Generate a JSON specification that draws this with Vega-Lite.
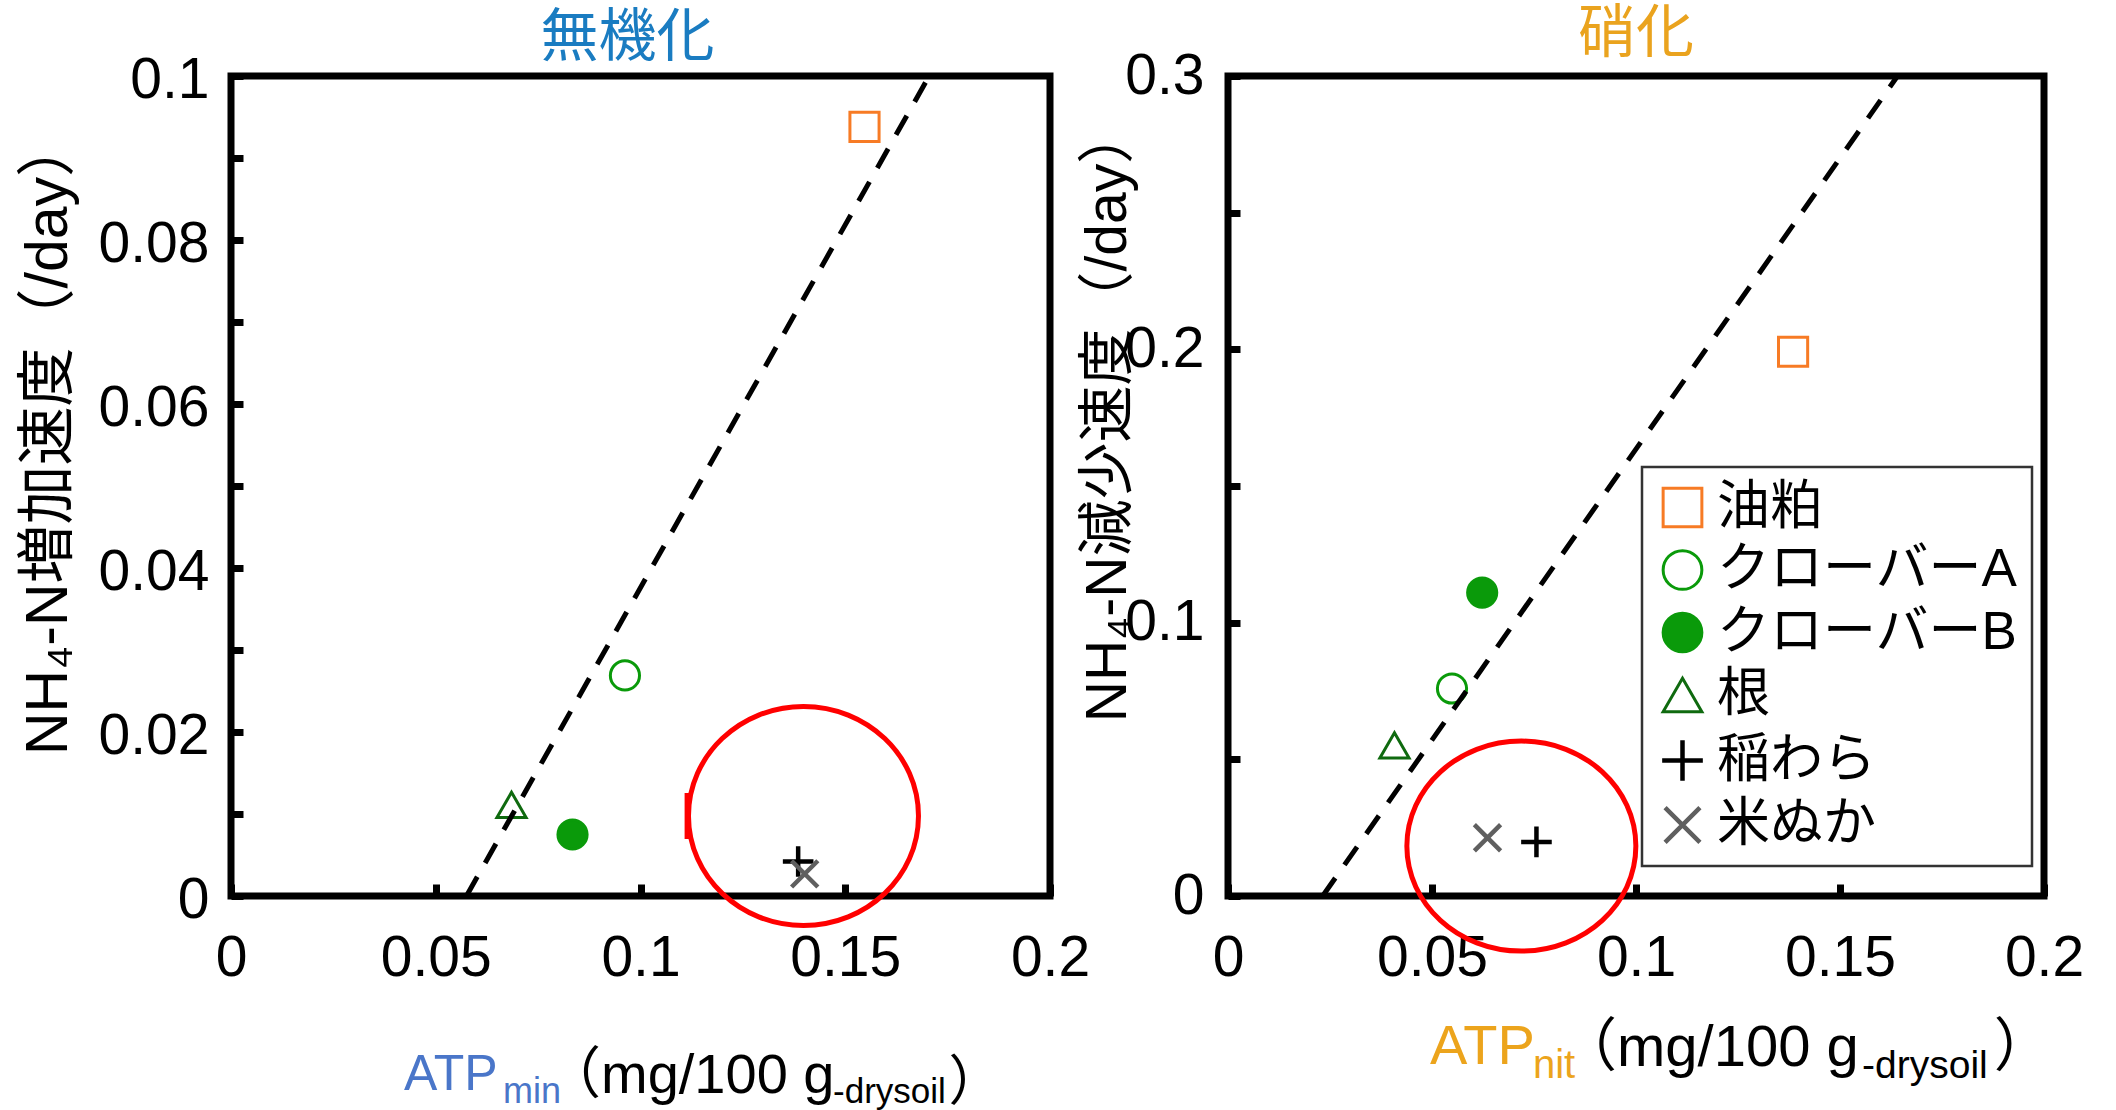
{
  "$schema": "https://vega.github.io/schema/vega-lite/v6.json",
  "background": "white",
  "padding": {"left": 15, "top": 2, "right": 0, "bottom": 0},
  "autosize": {"type": "pad"},
  "datasets": {
    "mineralization": [
      {"資材": "油粕", "ATP": 0.1547, "rate": 0.0938},
      {"資材": "クローバーA", "ATP": 0.0962, "rate": 0.0269},
      {"資材": "クローバーB", "ATP": 0.0834, "rate": 0.0075},
      {"資材": "根", "ATP": 0.0685, "rate": 0.0111},
      {"資材": "稲わら", "ATP": 0.1385, "rate": 0.0042},
      {"資材": "米ぬか", "ATP": 0.1401, "rate": 0.0027}
    ],
    "nitrification": [
      {"資材": "油粕", "ATP": 0.1385, "rate": 0.1991},
      {"資材": "クローバーA", "ATP": 0.0549, "rate": 0.0759},
      {"資材": "クローバーB", "ATP": 0.0623, "rate": 0.111},
      {"資材": "根", "ATP": 0.0408, "rate": 0.0551},
      {"資材": "稲わら", "ATP": 0.0756, "rate": 0.0198},
      {"資材": "米ぬか", "ATP": 0.0636, "rate": 0.0213}
    ],
    "fit_min": [
      {"ATP": 0.0575, "rate": 0},
      {"ATP": 0.1705, "rate": 0.1}
    ],
    "fit_nit": [
      {"ATP": 0.0232, "rate": 0},
      {"ATP": 0.1641, "rate": 0.3}
    ],
    "anchor": [{}]
  },
  "config": {
    "view": {"stroke": "black", "strokeWidth": 7},
    "font": "Liberation Sans",
    "legend": {"strokeWidth": 2.5},
    "axis": {
      "grid": false,
      "domain": false,
      "ticks": true,
      "tickSize": -12,
      "tickWidth": 7,
      "tickColor": "black",
      "labelFont": "Liberation Sans",
      "labelFontSize": 57,
      "labelColor": "black",
      "labelFlush": false,
      "labelOverlap": false
    }
  },
  "spacing": 178,
  "bounds": "flush",
  "resolve": {"scale": {"shape": "independent", "stroke": "independent", "fill": "independent", "strokeWidth": "independent"}},
  "hconcat": [
    {
      "width": 819,
      "height": 820,
      "title": {"text": "無機化", "color": "#1a7cc1", "font": "Noto Sans CJK JP", "fontSize": 58, "fontWeight": "normal", "frame": "group", "baseline": "alphabetic", "offset": -62.5, "dx": -13, "anchor": "middle"},
      "layer": [
        {
          "data": {"name": "mineralization"},
          "mark": {"type": "point", "filled": false, "opacity": 1, "size": 850},
          "encoding": {
            "x": {"field": "ATP", "type": "quantitative", "scale": {"domain": [0, 0.2], "nice": false},
              "axis": {"values": [0, 0.05, 0.1, 0.15, 0.2], "format": "~g", "title": null, "labelPadding": 46, "labelBaseline": "top"}},
            "y": {"field": "rate", "type": "quantitative", "scale": {"domain": [0, 0.1], "nice": false},
              "axis": {"values": [0, 0.01, 0.02, 0.03, 0.04, 0.05, 0.06, 0.07, 0.08, 0.09, 0.1], "format": "~g",
                "labelExpr": "round(datum.value*100) % 2 == 0 ? datum.label : ''", "labelPadding": 34, "labelOffset": 4,
                "title": "NH₄-N増加速度（/day）", "titleFont": "Liberation Sans, Noto Sans CJK JP", "titleFontSize": 59, "titleFontWeight": "normal", "titleColor": "black",
                "titleX": -183, "titleY": 360, "titleAngle": 270, "titleBaseline": "middle", "titleAlign": "center"}},
            "shape": {"field": "資材", "type": "nominal", "legend": null,
              "scale": {"domain": ["油粕", "クローバーA", "クローバーB", "根", "稲わら", "米ぬか"], "range": ["square", "circle", "circle", "triangle-up", "M -1.05 0 L 1.05 0 M 0 -1.05 L 0 1.05", "M -0.9 -0.9 L 0.9 0.9 M -0.9 0.9 L 0.9 -0.9"]}},
            "stroke": {"field": "資材", "type": "nominal", "legend": null,
              "scale": {"domain": ["油粕", "クローバーA", "クローバーB", "根", "稲わら", "米ぬか"], "range": ["#f77b25", "#0a9a0a", "#0a9a0a", "#0f6a0f", "#000000", "#5f5f5f"]}},
            "fill": {"field": "資材", "type": "nominal", "legend": null,
              "scale": {"domain": ["油粕", "クローバーA", "クローバーB", "根", "稲わら", "米ぬか"], "range": ["transparent", "transparent", "#0a9a0a", "transparent", "transparent", "transparent"]}},
            "strokeWidth": {"field": "資材", "type": "nominal", "legend": null,
              "scale": {"type": "ordinal", "domain": ["油粕", "クローバーA", "クローバーB", "根", "稲わら", "米ぬか"], "range": [3, 3, 3, 3, 4.5, 4.5]}}
          }
        },
        {
          "data": {"name": "fit_min"},
          "mark": {"type": "line", "color": "black", "strokeWidth": 5, "strokeDash": [22, 16], "strokeCap": "butt"},
          "encoding": {
            "x": {"field": "ATP", "type": "quantitative"},
            "y": {"field": "rate", "type": "quantitative"}
          }
        },
        {
          "data": {"name": "anchor"},
          "mark": {"type": "point", "shape": "M -1 0 A 1 0.952 0 1 1 1 0 A 1 0.952 0 1 1 -1 0 M -1.012 -0.2 L -1.012 0.2", "size": 52900, "filled": false, "stroke": "#ff0000", "strokeWidth": 5, "opacity": 1},
          "encoding": {
            "x": {"datum": 0.1398, "type": "quantitative"},
            "y": {"datum": 0.00976, "type": "quantitative"}
          }
        },
        {
          "data": {"name": "anchor"},
          "mark": {"type": "text", "text": "ATP", "align": "left", "baseline": "alphabetic", "font": "Liberation Sans", "fontSize": 50, "color": "#4a76c9"},
          "encoding": {"x": {"datum": 0.042247, "type": "quantitative"}, "y": {"datum": -0.023659, "type": "quantitative"}}
        },
        {
          "data": {"name": "anchor"},
          "mark": {"type": "text", "text": "min", "align": "left", "baseline": "alphabetic", "font": "Liberation Sans", "fontSize": 36, "color": "#4a76c9"},
          "encoding": {"x": {"datum": 0.066423, "type": "quantitative"}, "y": {"datum": -0.025244, "type": "quantitative"}}
        },
        {
          "data": {"name": "anchor"},
          "mark": {"type": "text", "text": "（mg/100 g", "align": "left", "baseline": "alphabetic", "font": "Liberation Sans, Noto Sans CJK JP", "fontSize": 56, "color": "black"},
          "encoding": {"x": {"datum": 0.07668, "type": "quantitative"}, "y": {"datum": -0.024024, "type": "quantitative"}}
        },
        {
          "data": {"name": "anchor"},
          "mark": {"type": "text", "text": "-drysoil", "align": "left", "baseline": "alphabetic", "font": "Liberation Sans", "fontSize": 35, "color": "black"},
          "encoding": {"x": {"datum": 0.14701, "type": "quantitative"}, "y": {"datum": -0.025244, "type": "quantitative"}}
        },
        {
          "data": {"name": "anchor"},
          "mark": {"type": "text", "text": "）", "align": "left", "baseline": "alphabetic", "font": "Noto Sans CJK JP", "fontSize": 54, "color": "black"},
          "encoding": {"x": {"datum": 0.1752, "type": "quantitative"}, "y": {"datum": -0.024878, "type": "quantitative"}}
        }
      ]
    },
    {
      "width": 816,
      "height": 820,
      "title": {"text": "硝化", "color": "#eaa31e", "font": "Noto Sans CJK JP", "fontSize": 58, "fontWeight": "normal", "frame": "group", "baseline": "alphabetic", "offset": -62.5, "anchor": "middle"},
      "layer": [
        {
          "data": {"name": "nitrification"},
          "mark": {"type": "point", "filled": false, "opacity": 1, "size": 850},
          "encoding": {
            "x": {"field": "ATP", "type": "quantitative", "scale": {"domain": [0, 0.2], "nice": false},
              "axis": {"values": [0, 0.05, 0.1, 0.15, 0.2], "format": "~g", "title": null, "labelPadding": 46, "labelBaseline": "top"}},
            "y": {"field": "rate", "type": "quantitative", "scale": {"domain": [0, 0.3], "nice": false},
              "axis": {"values": [0, 0.05, 0.1, 0.15, 0.2, 0.25, 0.3], "format": "~g",
                "labelExpr": "round(datum.value*100) % 10 == 0 ? datum.label : ''", "labelPadding": 36,
                "title": "NH₄-N減少速度（/day）", "titleFont": "Liberation Sans, Noto Sans CJK JP", "titleFontSize": 57, "titleFontWeight": "normal", "titleColor": "black",
                "titleX": -120, "titleY": 338, "titleAngle": 270, "titleBaseline": "middle", "titleAlign": "center"}},
            "shape": {"field": "資材", "type": "nominal",
              "legend": {"orient": "none", "legendX": 414, "legendY": 391, "direction": "vertical", "title": null, "labelFont": "Liberation Sans, Noto Sans CJK JP", "labelFontSize": 53, "labelColor": "black", "labelLimit": 500, "labelOffset": 8, "rowPadding": 8.5, "padding": 14, "symbolOffset": 0, "symbolSize": 1500, "symbolStrokeWidth": 4, "strokeColor": "#333333", "fillColor": "white"},
              "scale": {"domain": ["油粕", "クローバーA", "クローバーB", "根", "稲わら", "米ぬか"], "range": ["square", "circle", "circle", "triangle-up", "M -1.05 0 L 1.05 0 M 0 -1.05 L 0 1.05", "M -0.9 -0.9 L 0.9 0.9 M -0.9 0.9 L 0.9 -0.9"]}},
            "stroke": {"field": "資材", "type": "nominal",
              "legend": {"orient": "none", "legendX": 414, "legendY": 391, "direction": "vertical", "title": null, "labelFont": "Liberation Sans, Noto Sans CJK JP", "labelFontSize": 53, "labelColor": "black", "labelLimit": 500, "labelOffset": 8, "rowPadding": 8.5, "padding": 14, "symbolOffset": 0, "symbolSize": 1500, "symbolStrokeWidth": 4, "strokeColor": "#333333", "fillColor": "white"},
              "scale": {"domain": ["油粕", "クローバーA", "クローバーB", "根", "稲わら", "米ぬか"], "range": ["#f77b25", "#0a9a0a", "#0a9a0a", "#0f6a0f", "#000000", "#5f5f5f"]}},
            "fill": {"field": "資材", "type": "nominal",
              "legend": {"orient": "none", "legendX": 414, "legendY": 391, "direction": "vertical", "title": null, "labelFont": "Liberation Sans, Noto Sans CJK JP", "labelFontSize": 53, "labelColor": "black", "labelLimit": 500, "labelOffset": 8, "rowPadding": 8.5, "padding": 14, "symbolOffset": 0, "symbolSize": 1500, "symbolStrokeWidth": 4, "strokeColor": "#333333", "fillColor": "white"},
              "scale": {"domain": ["油粕", "クローバーA", "クローバーB", "根", "稲わら", "米ぬか"], "range": ["transparent", "transparent", "#0a9a0a", "transparent", "transparent", "transparent"]}},
            "strokeWidth": {"field": "資材", "type": "nominal",
              "legend": {"orient": "none", "legendX": 414, "legendY": 391, "direction": "vertical", "title": null, "labelFont": "Liberation Sans, Noto Sans CJK JP", "labelFontSize": 53, "labelColor": "black", "labelLimit": 500, "labelOffset": 8, "rowPadding": 8.5, "padding": 14, "symbolOffset": 0, "symbolSize": 1500, "symbolStrokeWidth": 4, "strokeColor": "#333333", "fillColor": "white"},
              "scale": {"type": "ordinal", "domain": ["油粕", "クローバーA", "クローバーB", "根", "稲わら", "米ぬか"], "range": [3, 3, 3, 3, 4.5, 4.5]}}
          }
        },
        {
          "data": {"name": "fit_nit"},
          "mark": {"type": "line", "color": "black", "strokeWidth": 5, "strokeDash": [22, 16], "strokeCap": "butt"},
          "encoding": {
            "x": {"field": "ATP", "type": "quantitative"},
            "y": {"field": "rate", "type": "quantitative"}
          }
        },
        {
          "data": {"name": "anchor"},
          "mark": {"type": "point", "shape": "M -1 0 A 1 0.917 0 1 1 1 0 A 1 0.917 0 1 1 -1 0", "size": 52441, "filled": false, "stroke": "#ff0000", "strokeWidth": 5, "opacity": 1},
          "encoding": {
            "x": {"datum": 0.0719, "type": "quantitative"},
            "y": {"datum": 0.01827, "type": "quantitative"}
          }
        },
        {
          "data": {"name": "anchor"},
          "mark": {"type": "text", "text": "ATP", "align": "left", "baseline": "alphabetic", "font": "Liberation Sans", "fontSize": 56, "color": "#eca41c"},
          "encoding": {"x": {"datum": 0.04951, "type": "quantitative"}, "y": {"datum": -0.061463, "type": "quantitative"}}
        },
        {
          "data": {"name": "anchor"},
          "mark": {"type": "text", "text": "nit", "align": "left", "baseline": "alphabetic", "font": "Liberation Sans", "fontSize": 40, "color": "#eca41c"},
          "encoding": {"x": {"datum": 0.07475, "type": "quantitative"}, "y": {"datum": -0.066585, "type": "quantitative"}}
        },
        {
          "data": {"name": "anchor"},
          "mark": {"type": "text", "text": "（mg/100 g", "align": "left", "baseline": "alphabetic", "font": "Liberation Sans, Noto Sans CJK JP", "fontSize": 58, "color": "black"},
          "encoding": {"x": {"datum": 0.081127, "type": "quantitative"}, "y": {"datum": -0.062195, "type": "quantitative"}}
        },
        {
          "data": {"name": "anchor"},
          "mark": {"type": "text", "text": "-drysoil", "align": "left", "baseline": "alphabetic", "font": "Liberation Sans", "fontSize": 39, "color": "black"},
          "encoding": {"x": {"datum": 0.1554, "type": "quantitative"}, "y": {"datum": -0.066585, "type": "quantitative"}}
        },
        {
          "data": {"name": "anchor"},
          "mark": {"type": "text", "text": "）", "align": "left", "baseline": "alphabetic", "font": "Noto Sans CJK JP", "fontSize": 58, "color": "black"},
          "encoding": {"x": {"datum": 0.1877, "type": "quantitative"}, "y": {"datum": -0.062195, "type": "quantitative"}}
        }
      ]
    }
  ]
}
